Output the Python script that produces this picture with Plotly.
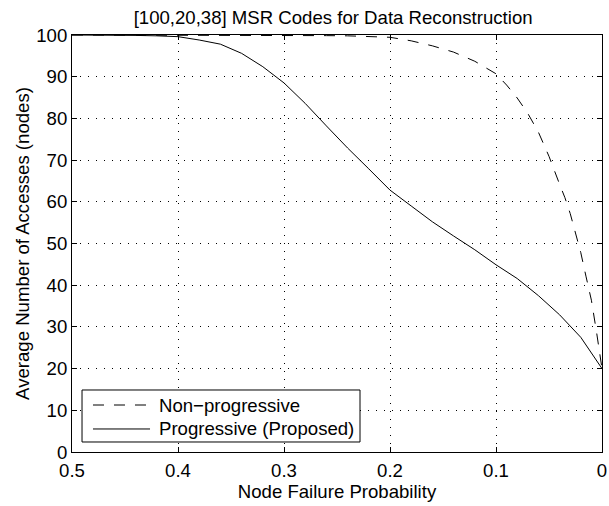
import plotly.graph_objects as go

# Data
x_prog = [0.50, 0.48, 0.46, 0.44, 0.42, 0.40, 0.38, 0.36, 0.34, 0.32, 0.30,
          0.28, 0.26, 0.24, 0.22, 0.20, 0.18, 0.16, 0.14, 0.12, 0.10,
          0.08, 0.06, 0.04, 0.02, 0.00]
y_prog = [100.0, 100.0, 99.95, 99.9, 99.8, 99.6, 98.8, 97.8, 95.6, 92.4, 88.5,
          83.6, 78.2, 72.9, 67.9, 62.8, 59.0, 55.2, 51.8, 48.5, 44.9,
          41.6, 37.5, 32.9, 27.5, 20.0]

x_nonprog = [0.50, 0.45, 0.40, 0.35, 0.30, 0.28, 0.26, 0.24, 0.22, 0.20,
             0.18, 0.16, 0.14, 0.12, 0.10, 0.09, 0.08, 0.07, 0.06, 0.05,
             0.04, 0.035, 0.03, 0.025, 0.02, 0.015, 0.01, 0.005, 0.0]
y_nonprog = [100.0, 100.0, 100.0, 100.0, 99.95, 99.9, 99.85, 99.8, 99.7, 99.45,
             98.6, 97.4, 95.9, 93.7, 90.7, 88.0, 84.9, 81.2, 76.7, 70.9,
             64.2, 61.0, 57.2, 52.8, 47.8, 42.0, 36.4, 28.5, 20.0]

x_ticks = [0.5, 0.4, 0.3, 0.2, 0.1, 0.0]
x_ticktext = ["0.5", "0.4", "0.3", "0.2", "0.1", "0"]
y_ticks = [0, 10, 20, 30, 40, 50, 60, 70, 80, 90, 100]

title_text = "[100,20,38] MSR Codes for Data Reconstruction"
x_title = "Node Failure Probability"
y_title = "Average Number of Accesses (nodes)"
name_nonprog = "Non\u2212progressive"
name_prog = "Progressive (Proposed)"

FONT = "Liberation Sans, Arial, Helvetica, sans-serif"
FS = 18.6
DASH = "11px,10px"

fig = go.Figure()
fig.add_trace(go.Scatter(x=x_nonprog, y=y_nonprog, mode="lines", name=name_nonprog,
                         line=dict(color="black", width=1, dash=DASH), showlegend=False))
fig.add_trace(go.Scatter(x=x_prog, y=y_prog, mode="lines", name=name_prog,
                         line=dict(color="black", width=1), showlegend=False))

axis_common = dict(
    showline=True, linecolor="black", linewidth=1, mirror="ticks",
    ticks="inside", ticklen=5, tickcolor="black",
    showgrid=True, gridcolor="black", gridwidth=1, griddash="1px,7px",
    zeroline=False, tickfont=dict(family=FONT, size=FS, color="black"),
)

fig.update_xaxes(range=[0.5, 0.0], tickvals=x_ticks, ticktext=x_ticktext,
                 ticklabelstandoff=2,
                 title=dict(text=x_title, font=dict(family=FONT, size=FS, color="black"),
                            standoff=3),
                 **axis_common)
fig.update_yaxes(range=[0, 100], tickvals=y_ticks,
                 title=dict(text=y_title, font=dict(family=FONT, size=FS, color="black"),
                            standoff=1),
                 **axis_common)

# Manual MATLAB-style legend (box, line samples, labels) in paper coordinates
box_x0, box_x1, box_y0, box_y1 = 0.0189, 0.5434, 0.024, 0.1487
sample_x0, sample_x1 = 0.0396, 0.1472
row_y = [0.1127, 0.0552]
text_x = 0.1604
legend_shapes = [
    dict(type="rect", xref="paper", yref="paper", x0=box_x0, x1=box_x1,
         y0=box_y0, y1=box_y1, line=dict(color="black", width=1),
         fillcolor="white", layer="above"),
    dict(type="line", xref="paper", yref="paper", x0=sample_x0, x1=sample_x1,
         y0=row_y[0], y1=row_y[0], line=dict(color="black", width=1, dash=DASH),
         layer="above"),
    dict(type="line", xref="paper", yref="paper", x0=sample_x0, x1=sample_x1,
         y0=row_y[1], y1=row_y[1], line=dict(color="black", width=1),
         layer="above"),
]
legend_annos = [
    dict(xref="paper", yref="paper", x=text_x, y=row_y[i], text=t,
         showarrow=False, xanchor="left", yanchor="middle",
         font=dict(family=FONT, size=FS, color="black"))
    for i, t in enumerate([name_nonprog, name_prog])
]

fig.update_layout(
    width=609, height=506,
    margin=dict(l=72, r=7, t=35, b=54, autoexpand=False),
    paper_bgcolor="white", plot_bgcolor="white",
    font=dict(family=FONT, size=FS, color="black"),
    title=dict(text=title_text, x=0.547, xanchor="center", y=1 - 17 / 506,
               yanchor="middle", yref="container",
               font=dict(family=FONT, size=FS, color="black")),
    shapes=legend_shapes,
    annotations=legend_annos,
    showlegend=False,
)

fig.write_html("out.html", config={"displayModeBar": False},
               post_script="document.body.style.margin='0px';document.body.style.overflow='hidden';")
